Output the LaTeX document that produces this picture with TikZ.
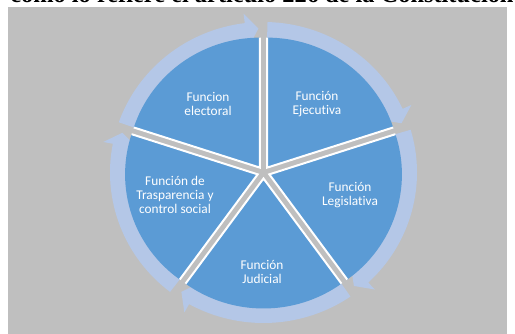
\documentclass[tikz,border=0pt]{standalone}
\usepackage{fontspec}
\setmainfont{Carlito}[Ligatures=NoCommon]
\newfontfamily\titulofont{Liberation Serif}
\definecolor{fondo}{RGB}{191,191,191}
\definecolor{azul}{RGB}{91,155,213}
\definecolor{azulclaro}{RGB}{180,199,231}

\begin{document}
\begin{tikzpicture}[x=0.75pt,y=0.75pt,
    sector/.style={fill=azul},
    borde/.style={draw=white,line width=1.5pt},
    flecha/.style={fill=azulclaro},
    texto/.style={text=white,align=center,font=\fontsize{10}{10.7}\selectfont}]
    \useasboundingbox (0,0) rectangle (515,-334);
    \fill[fondo] (8,-7) rectangle (507,-334);
    \node[anchor=base west,inner sep=0,font=\titulofont\bfseries\fontsize{18.3}{20}\selectfont] (titulo) at (10,-3) {como lo refiere el artículo 226 de la Constitución};

    \begin{scope}[shift={(263.5,-172.5)},xscale=1.02]
    \foreach \a in {90,18,-54,-126,-198}{
        \fill[flecha] (\a+70.5:150.5) arc[start angle=\a+70.5,end angle=\a+7,radius=150.5]
        -- (\a+7:160) -- (\a+2:144) -- (\a+7:125) -- (\a+7:134)
        arc[start angle=\a+7,end angle=\a+70.5,radius=134] -- cycle;
    }
    \foreach \a in {90,18,-54,-126,-198}{
        \begin{scope}[shift={(\a-36:6)}]
        \fill[sector] (0,0) -- (\a:130) arc[start angle=\a,end angle=\a-72,radius=130] -- cycle;
        \draw[borde] (\a:130) -- (0,0) -- (\a-72:130);
        \end{scope}
    }
    \end{scope}

    \node[texto] (electoral) at (208,-104) {Funcion\\electoral};
    \node[texto] (ejecutiva) at (317,-104) {Función\\Ejecutiva};
    \node[texto] (legislativa) at (350,-195) {Función\\Legislativa};
    \node[texto] (judicial) at (262,-272) {Función\\Judicial};
    \node[texto] (transparencia) at (175,-195) {Función de\\Trasparencia y\\control social};
\end{tikzpicture}
\end{document}
